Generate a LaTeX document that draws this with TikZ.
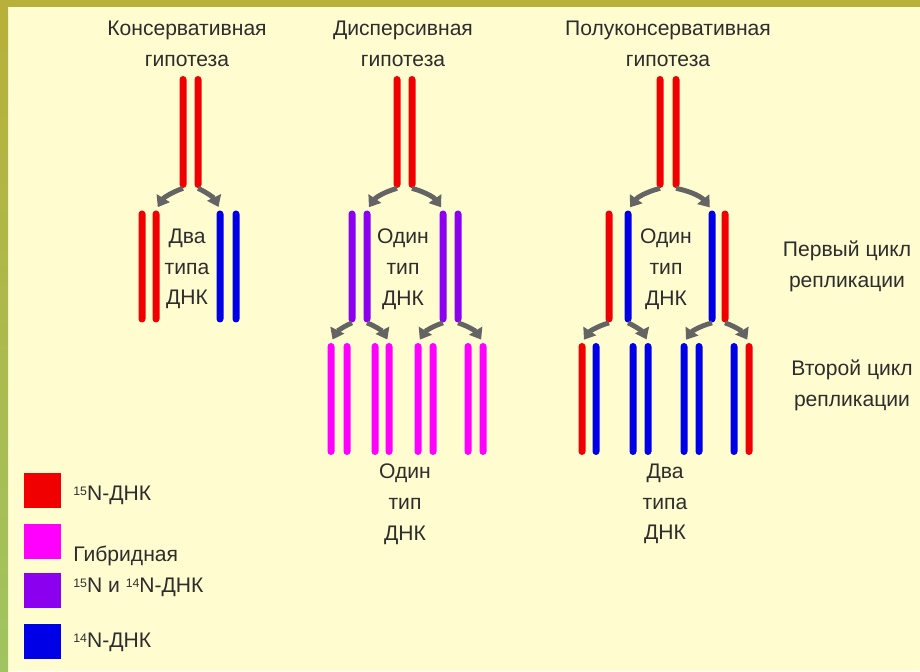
\documentclass[tikz,border=0pt]{standalone}
\usepackage{fontspec}
\setmainfont{Liberation Sans}
\usetikzlibrary{arrows.meta}

\definecolor{nred}{RGB}{240,0,0}
\definecolor{nblue}{RGB}{0,0,230}
\definecolor{nmag}{RGB}{255,0,255}
\definecolor{nviolet}{RGB}{140,0,240}
\definecolor{bgcream}{RGB}{255,253,208}
\definecolor{bandolive}{RGB}{184,176,58}
\definecolor{bandgreen}{RGB}{160,196,96}
\definecolor{txt}{RGB}{45,45,45}
\definecolor{arrgray}{RGB}{100,100,100}

\newcommand{\iso}[1]{\raisebox{0.45ex}{\fontsize{7}{7}\selectfont #1}}

\begin{document}
\begin{tikzpicture}[font=\fontsize{12}{17.5}\selectfont, text=txt]
\fill[bgcream] (0,0) rectangle (18.4,13.42);
\fill[bandolive] (0,13.28) rectangle (18.4,13.42);
\shade[top color=bandolive, bottom color=bandgreen] (0,0) rectangle (0.16,13.42);

% strands
\begin{scope}[every node/.style={rectangle,rounded corners=0.07cm,inner sep=0pt,
                                 minimum width=0.14cm,minimum height=2.24cm}]
    \node[fill=nred] (K1) at (3.66,10.78) {};
    \node[fill=nred] (K2) at (3.96,10.78) {};
    \node[fill=nred] (K3) at (2.84,8.09) {};
    \node[fill=nred] (K4) at (3.12,8.09) {};
    \node[fill=nblue] (K5) at (4.40,8.09) {};
    \node[fill=nblue] (K6) at (4.72,8.09) {};

    \node[fill=nred] (D1) at (7.94,10.78) {};
    \node[fill=nred] (D2) at (8.24,10.78) {};
    \node[fill=nviolet] (D3) at (7.04,8.09) {};
    \node[fill=nviolet] (D4) at (7.34,8.09) {};
    \node[fill=nviolet] (D5) at (8.86,8.09) {};
    \node[fill=nviolet] (D6) at (9.16,8.09) {};
    \node[fill=nmag] (D7) at (6.62,5.44) {};
    \node[fill=nmag] (D8) at (6.94,5.44) {};
    \node[fill=nmag] (D9) at (7.50,5.44) {};
    \node[fill=nmag] (D10) at (7.78,5.44) {};
    \node[fill=nmag] (D11) at (8.36,5.44) {};
    \node[fill=nmag] (D12) at (8.66,5.44) {};
    \node[fill=nmag] (D13) at (9.36,5.44) {};
    \node[fill=nmag] (D14) at (9.66,5.44) {};

    \node[fill=nred] (P1) at (13.20,10.78) {};
    \node[fill=nred] (P2) at (13.52,10.78) {};
    \node[fill=nred] (P3) at (12.18,8.09) {};
    \node[fill=nblue] (P4) at (12.56,8.09) {};
    \node[fill=nblue] (P5) at (14.24,8.09) {};
    \node[fill=nred] (P6) at (14.50,8.09) {};
    \node[fill=nred] (P7) at (11.64,5.44) {};
    \node[fill=nblue] (P8) at (11.92,5.44) {};
    \node[fill=nblue] (P9) at (12.66,5.44) {};
    \node[fill=nblue] (P10) at (12.96,5.44) {};
    \node[fill=nblue] (P11) at (13.68,5.44) {};
    \node[fill=nblue] (P12) at (13.98,5.44) {};
    \node[fill=nblue] (P13) at (14.68,5.44) {};
    \node[fill=nred] (P14) at (14.98,5.44) {};
\end{scope}

% labels
\begin{scope}[every node/.style={align=center,inner sep=0pt}]
    \node (TK) at (3.74,12.54) {Консервативная\\гипотеза};
    \node (TD) at (8.06,12.54) {Дисперсивная\\гипотеза};
    \node (TP) at (13.36,12.54) {Полуконсервативная\\гипотеза};
    \node (LK) at (3.74,8.04) {Два\\типа\\ДНК};
    \node (LD) at (8.06,8.04) {Один\\тип\\ДНК};
    \node (LP) at (13.32,8.04) {Один\\тип\\ДНК};
    \node (LD2) at (8.10,3.34) {Один\\тип\\ДНК};
    \node (LP2) at (13.30,3.34) {Два\\типа\\ДНК};
    \node (R1) at (16.94,8.10) {Первый цикл\\репликации};
    \node (R2) at (17.04,5.72) {Второй цикл\\репликации};
\end{scope}

% legend
\begin{scope}[every node/.style={rectangle,inner sep=0pt,minimum width=0.74cm,minimum height=0.70cm}]
    \node[fill=nred] (S1) at (0.85,3.61) {};
    \node[fill=nmag] (S2) at (0.85,2.60) {};
    \node[fill=nviolet] (S3) at (0.85,1.61) {};
    \node[fill=nblue] (S4) at (0.85,0.60) {};
\end{scope}
\begin{scope}[every node/.style={anchor=west,align=left,inner sep=0pt}]
    \node (E1) at (1.46,3.52) {\iso{15}N-ДНК};
    \node (E2) at (1.46,2.00) {Гибридная\\\iso{15}N и \iso{14}N-ДНК};
    \node (E3) at (1.46,0.58) {\iso{14}N-ДНК};
\end{scope}

% replication arrows
\begin{scope}[>={Triangle[length=6pt,width=8.5pt]}, shorten >=2pt,
              every edge/.style={draw=arrgray,line width=2.8pt}]
    \path [->] (K1.south) edge[bend right=20] (K4.north);
    \path [->] (K2.south) edge[bend left=20] (K5.north);
    \path [->] (D1.south) edge[bend right=20] (D4.north);
    \path [->] (D2.south) edge[bend left=20] (D5.north);
    \path [->] (P1.south) edge[bend right=20] (P4.north);
    \path [->] (P2.south) edge[bend left=20] (P5.north);
    \path [->] (D3.south) edge[bend right=20] (D7.north);
    \path [->] (D4.south) edge[bend left=20] (D10.north);
    \path [->] (D5.south) edge[bend right=20] (D11.north);
    \path [->] (D6.south) edge[bend left=20] (D14.north);
    \path [->] (P3.south) edge[bend right=20] (P7.north);
    \path [->] (P4.south) edge[bend left=20] (P10.north);
    \path [->] (P5.south) edge[bend right=20] (P11.north);
    \path [->] (P6.south) edge[bend left=20] (P14.north);
\end{scope}
\end{tikzpicture}
\end{document}
